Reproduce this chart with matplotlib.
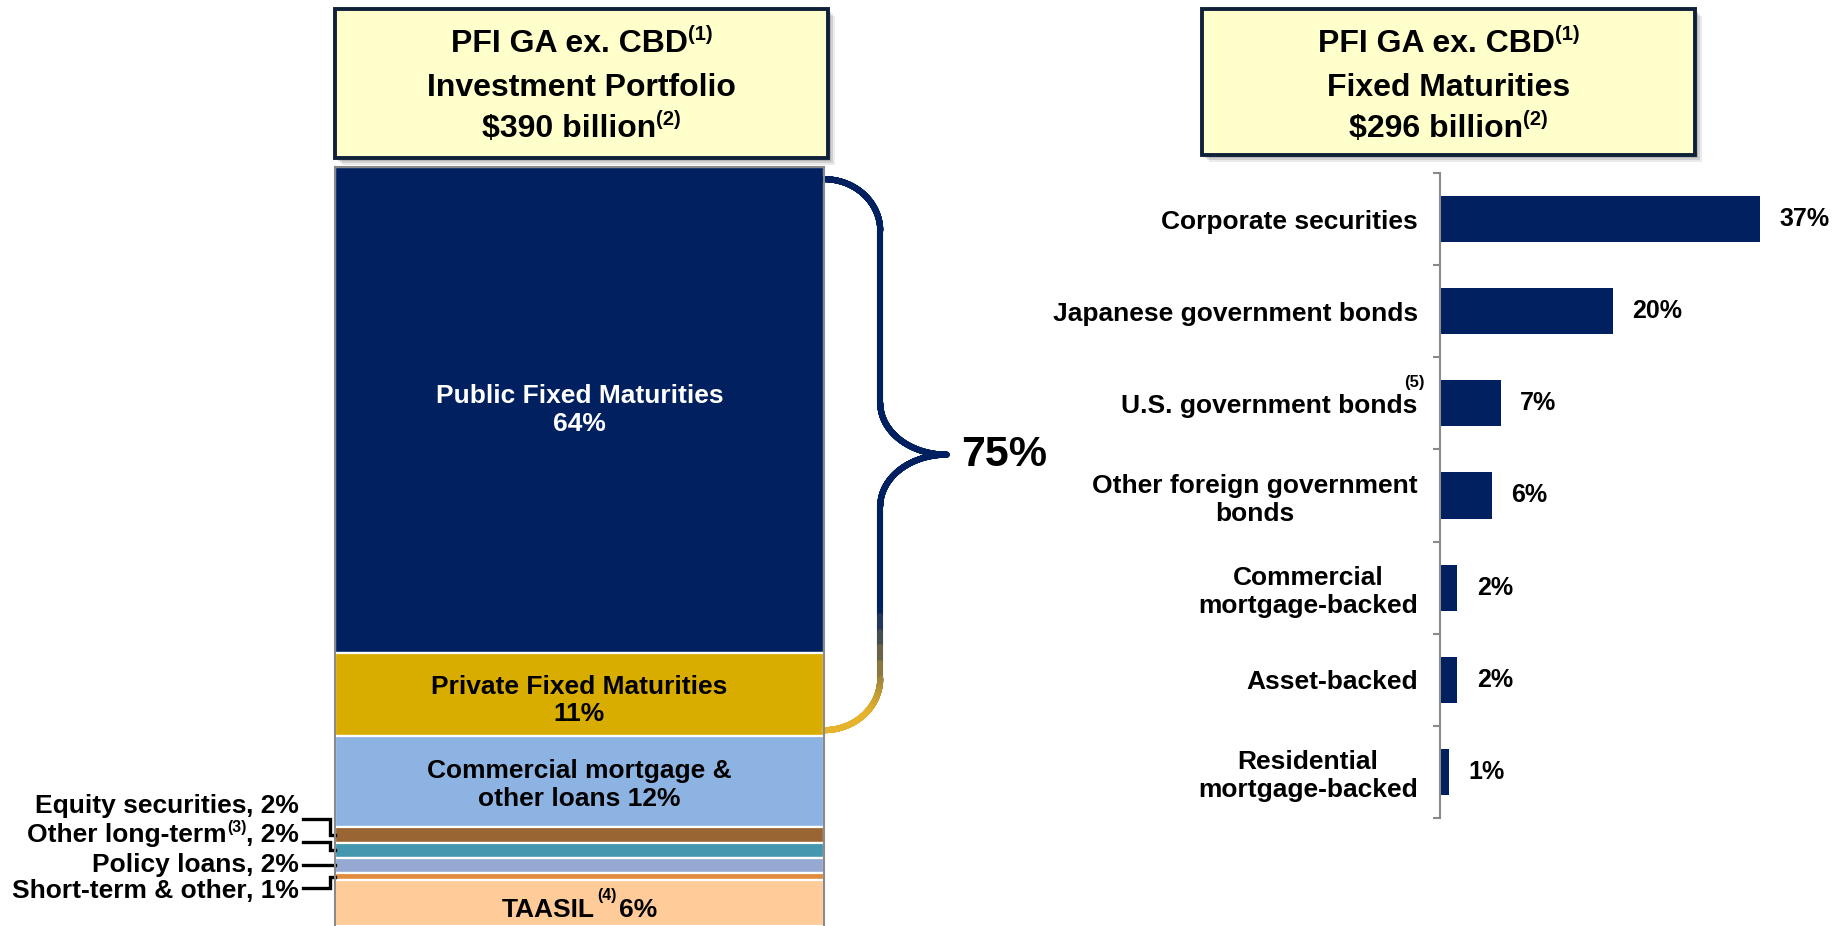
import numpy as np
import matplotlib
matplotlib.use("Agg")
import matplotlib.pyplot as plt
import matplotlib.transforms as mtransforms
from matplotlib.patches import Rectangle
from matplotlib.collections import LineCollection
from matplotlib.colors import to_rgb

plt.rcParams['font.family'] = ['Liberation Sans', 'DejaVu Sans']
plt.rcParams['font.weight'] = 'bold'

# ---- data ----
portfolio_labels = ['Public Fixed Maturities', 'Private Fixed Maturities',
                    'Commercial mortgage &\nother loans', 'Equity securities',
                    'Other long-term', 'Policy loans', 'Short-term & other', 'TAASIL']
portfolio_pct = [64, 11, 12, 2, 2, 2, 1, 6]
portfolio_notes = {'Other long-term': '(3)', 'TAASIL': '(4)'}
portfolio_total = 390
fixed_share = 75

fm_categories = ['Corporate securities', 'Japanese government bonds', 'U.S. government bonds',
                 'Other foreign government\nbonds', 'Commercial\nmortgage-backed',
                 'Asset-backed', 'Residential\nmortgage-backed']
fm_pct = [37, 20, 7, 6, 2, 2, 1]
fm_total = 296

# ---- style ----
navy = '#002060'
gold = '#E6B32C'
seg_colors = ['#002060', '#D8AD00', '#8DB3E2', '#996633', '#4497AE', '#95A9D2', '#E18B3C', '#FFCC99']
W, H = 1833, 926

fig = plt.figure(figsize=(W / 100, H / 100), dpi=100)
renderer = fig.canvas.get_renderer()


def rich(x, y, pieces, size, transform, ha='center', color='black', rise=0.40, sup_scale=0.6, gap=0):
    # lay out text pieces (text, is_superscript) side by side
    widths = []
    for s, sup in pieces:
        t = fig.text(0, 0, s, fontsize=size * sup_scale if sup else size)
        widths.append(t.get_window_extent(renderer).width + (gap if sup else 0))
        t.remove()
    total = sum(widths)
    start = {'center': -total / 2, 'left': 0, 'right': -total}[ha]
    em = size * fig.dpi / 72
    for (s, sup), w in zip(pieces, widths):
        dy = (rise * em if sup else 0) - 0.36 * em
        tr = mtransforms.offset_copy(transform, fig=fig, x=start + (gap / 2 if sup else 0), y=dy,
                                     units='dots')
        fig.text(x, y, s, fontsize=size * sup_scale if sup else size, color=color,
                 transform=tr, ha='left', va='baseline')
        start += w


def title_box(x0, x1, y0, y1, lines):
    for k, a in [(7, 0.12), (5, 0.18), (3, 0.25)]:
        fig.add_artist(Rectangle((x0 / W + k / W, 1 - y1 / H - k / H), (x1 - x0) / W, (y1 - y0) / H,
                                 transform=fig.transFigure, facecolor='#606060', edgecolor='none',
                                 alpha=a, zorder=1))
    fig.add_artist(Rectangle((x0 / W, 1 - y1 / H), (x1 - x0) / W, (y1 - y0) / H,
                             transform=fig.transFigure, facecolor='#FFFFCC', edgecolor='#0F2139',
                             linewidth=2.8, zorder=2))
    cx = (x0 + x1) / 2 / W
    for yy, pieces in zip([41, 84, 126], lines):
        rich(cx, 1 - yy / H, pieces, 23, fig.transFigure, sup_scale=0.63)


title_box(335, 828, 9, 158, [[('PFI GA ex. CBD', False), ('(1)', True)],
                             [('Investment Portfolio', False)],
                             [('$%d billion' % portfolio_total, False), ('(2)', True)]])
title_box(1202, 1695, 9, 155, [[('PFI GA ex. CBD', False), ('(1)', True)],
                               [('Fixed Maturities', False)],
                               [('$%d billion' % fm_total, False), ('(2)', True)]])

# ---- left stacked bar ----
axL = fig.add_axes([335 / W, 0, (824 - 335) / W, (926 - 167) / H])
bottoms = np.cumsum([0] + portfolio_pct[:-1])
axL.bar(0.5, portfolio_pct, bottom=bottoms, width=1.0, color=seg_colors,
        edgecolor='white', linewidth=1.6)
axL.set_xlim(0, 1)
axL.set_ylim(100, 0)
axL.set_xticks([])
axL.set_yticks([])
for side in ['left', 'right', 'top']:
    axL.spines[side].set_color('#8a8a8a')
    axL.spines[side].set_linewidth(1.5)
axL.spines['bottom'].set_visible(False)

centers = bottoms + np.array(portfolio_pct) / 2
axL.text(0.5, centers[0], '%s\n%d%%' % (portfolio_labels[0], portfolio_pct[0]),
         color='white', ha='center', va='center', fontsize=19)
axL.text(0.5, centers[1] + 0.8, '%s\n%d%%' % (portfolio_labels[1], portfolio_pct[1]),
         color='black', ha='center', va='center', fontsize=19)
axL.text(0.5, centers[2] + 0.4, '%s %d%%' % (portfolio_labels[2], portfolio_pct[2]),
         color='black', ha='center', va='center', fontsize=19)
blendL = mtransforms.blended_transform_factory(axL.transAxes, axL.transData)
rich(0.5, centers[7] + 0.6, [(portfolio_labels[7], False), (portfolio_notes['TAASIL'], True),
                             ('%d%%' % portfolio_pct[7], False)], 19, axL.transData,
     rise=0.65, gap=5)

# side labels with elbow connectors
label_y = [83.8, 87.7, 91.6, 95.0]
conn_y = [85.9, 88.9, 92.0, 95.0]
for k, i in enumerate(range(3, 7)):
    name = portfolio_labels[i]
    pieces = [(name, False)]
    if name in portfolio_notes:
        pieces.append((portfolio_notes[name], True))
    pieces.append((', %d%%' % portfolio_pct[i], False))
    rich(-0.0736, label_y[k], pieces, 19, blendL, ha='right')
    axL.plot([-0.066, -0.011, -0.011, 0.0], [conn_y[k], conn_y[k], centers[i], centers[i]],
             color='black', lw=2.4, transform=blendL, clip_on=False, solid_joinstyle='miter')

# brace around fixed maturities
y0, y1 = 1.6, fixed_share - 0.8
mid = (y0 + y1) / 2
xv, xt, r = 1.115, 1.251, 6.8
t = np.linspace(0, np.pi / 2, 40)
top1 = np.c_[1.0 + (xv - 1.0) * np.sin(t), y0 + r - r * np.cos(t)]
top2 = np.c_[xt - (xt - xv) * np.cos(t), mid - r + r * np.sin(t)]
bot1 = np.c_[xt - (xt - xv) * np.cos(t[::-1]), mid + r - r * np.sin(t[::-1])]
bot2 = np.c_[1.0 + (xv - 1.0) * np.sin(t[::-1]), y1 - r + r * np.cos(t[::-1])]
pts = np.vstack([top1, [[xv, mid - r]], top2, bot1, [[xv, y1 - r]], bot2])
# densify
dense = [pts[0]]
for a, b in zip(pts[:-1], pts[1:]):
    for f in np.linspace(0, 1, 12)[1:]:
        dense.append(a + (b - a) * f)
dense = np.array(dense)
segs = np.stack([dense[:-1], dense[1:]], axis=1)
ym = segs[:, :, 1].mean(axis=1)
f = np.clip((ym - 58) / (72 - 58), 0, 1)[:, None]
cols = (1 - f) * np.array(to_rgb(navy)) + f * np.array(to_rgb(gold))
lc = LineCollection(segs, colors=cols, linewidths=4.4, transform=blendL, capstyle='round')
lc.set_clip_on(False)
axL.add_collection(lc)
axL.text(1.28, mid, '%d%%' % fixed_share, transform=blendL, ha='left', va='center',
         fontsize=31, clip_on=False)

# ---- right horizontal bars ----
axR = fig.add_axes([1440 / W, 1 - 818 / H, (1833 - 1440) / W, (818 - 173) / H])
ypos = np.arange(len(fm_categories))
axR.barh(ypos, fm_pct, height=0.5, color=navy)
axR.set_xlim(0, 45.4)
axR.set_ylim(len(fm_categories) - 0.5, -0.5)
axR.set_xticks([])
axR.set_yticks(ypos)
axR.set_yticklabels(fm_categories, fontsize=19)
for lab in axR.get_yticklabels():
    lab.set_multialignment('center')
axR.set_yticks(np.arange(-0.5, len(fm_categories), 1), minor=True)
axR.tick_params(axis='y', which='major', length=0, pad=16)
axR.tick_params(axis='y', which='minor', length=5, width=1.5, color='#8a8a8a', direction='out')
for side in ['top', 'right', 'bottom']:
    axR.spines[side].set_visible(False)
axR.spines['left'].set_color('#8a8a8a')
axR.spines['left'].set_linewidth(1.5)
for i, v in enumerate(fm_pct):
    axR.annotate('%d%%' % v, (v, i), xytext=(14, 0), textcoords='offset points',
                 ha='left', va='center', fontsize=18)
axR.annotate('(5)', (0, 2), xytext=(-18.5, 15), textcoords='offset points',
             ha='center', va='center', fontsize=12)

fig.savefig('out.png', dpi=100)
